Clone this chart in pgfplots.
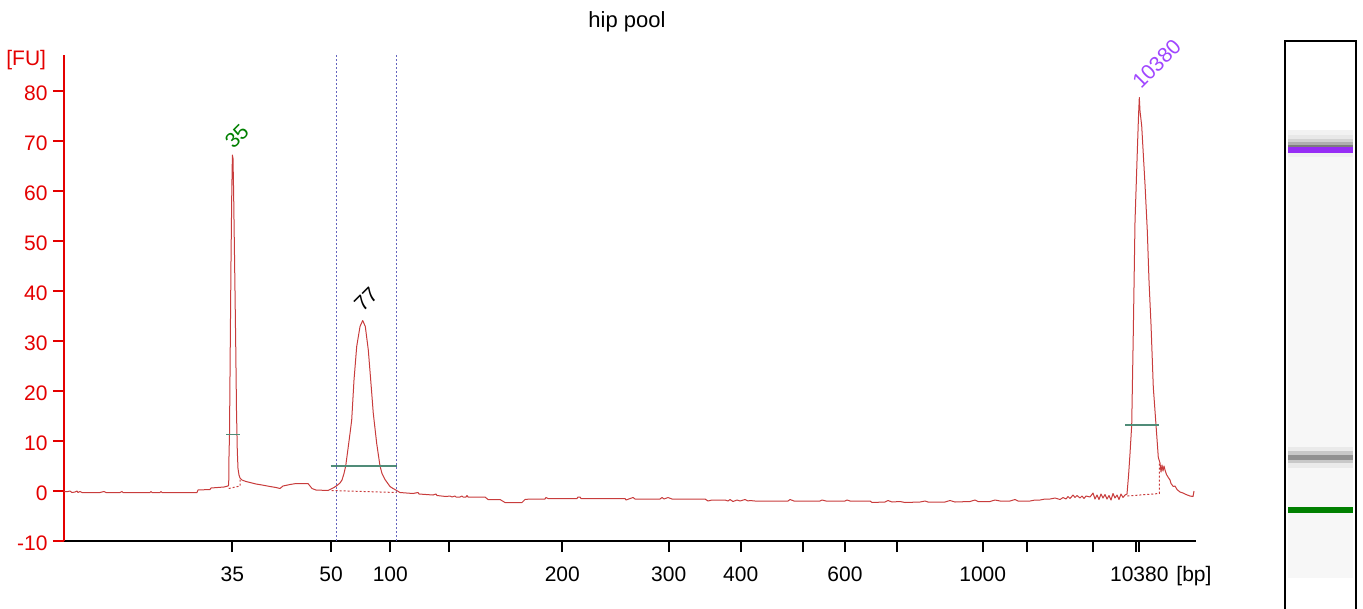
\documentclass[border=0pt]{standalone}
\usepackage{fontspec}
\setmainfont{Liberation Sans}
\usepackage{pgfplots}
\pgfplotsset{compat=1.18}

\definecolor{trace}{RGB}{200,60,60}
\definecolor{fured}{RGB}{228,0,0}
\definecolor{marker}{RGB}{100,100,190}
\definecolor{halfline}{RGB}{80,140,120}
\definecolor{ladgreen}{RGB}{0,128,0}
\definecolor{ladpurple}{RGB}{150,45,245}
\definecolor{labpurple}{RGB}{160,70,255}

\begin{document}
\begin{tikzpicture}
\useasboundingbox (0,0) rectangle (681.5pt,-304.5pt);

% electropherogram, x in screen pixels, y in FU
\begin{axis}[
  at={(32pt,-270.5pt)}, anchor=south west,
  scale only axis, width=566pt, height=243pt,
  xmin=64, xmax=1196, ymin=-10, ymax=87.2,
  enlargelimits=false, clip=false,
  axis lines=left,
  axis line style={-},
  x axis line style={black, line width=1pt},
  y axis line style={fured, line width=1pt},
  tick align=outside, major tick length=5.5pt,
  x tick style={black, line width=1pt},
  y tick style={fured, line width=1pt},
  xtick={232.3,331,390.3,448.7,562.3,668.7,740.7,802.7,845,896.7,982.7,1026.7,1093.3,1135.7,1139.3},
  xticklabels={35,50,100,{},200,300,400,{},600,{},1000,{},{},{},10380},
  ytick={-10,0,10,20,30,40,50,60,70,80},
  yticklabels={-10,0,10,20,30,40,50,60,70,80},
  tick label style={font=\fontsize{10.5}{12}\selectfont},
  xticklabel style={anchor=base, inner sep=0pt, yshift=-14.5pt},
  yticklabel style={fured, anchor=east, inner sep=0pt, xshift=-2.5pt, yshift=-1.3pt},
]
% region markers
\addplot[marker, line width=0.5pt, dash pattern=on 1pt off 1pt] coordinates {(336.3,-10) (336.3,87.2)};
\addplot[marker, line width=0.5pt, dash pattern=on 1pt off 1pt] coordinates {(396.7,-10) (396.7,87.2)};

% trace
\addplot[trace, line width=0.5pt, line join=round] coordinates {
(64,-0.1)(68,-0.1)(70,0.0)(72,-0.3)(75,-0.2)(77,0.0)(78,-0.3)(80,-0.1)(82,-0.3)(100,-0.3)(104,-0.1)(106,-0.3)
(120,-0.3)(122,-0.1)(123,-0.3)(150,-0.3)(151,-0.1)(152,-0.3)(160,-0.3)(161,-0.1)(162,-0.3)(197,-0.3)(198,0.2)
(210,0.3)(211,0.6)(224,0.8)(226,0.9)(228,1.0)
(228.7,1.2)(229,7)(229.5,11.3)(230.3,30)(231,46)(231.8,60)(232.4,67.2)(233,66.5)(233.6,60)(234.3,50)(235,40)
(235.8,28)(236.5,16)(237.3,8)(238,4.5)(239,3.2)(240,2.6)(242,2.2)(246,1.9)(250,1.7)(256,1.4)(262,1.2)(270,0.9)
(276,0.7)(280,0.5)(283,1.0)(290,1.3)(296,1.5)(308,1.5)(310,1.0)(312,0.5)(316,0.2)(328,0.1)(331,0.4)(334,0.7)
(337,1.1)(340,1.6)(342,2.2)(344,3.5)(345.7,5.0)(348.3,8.9)(350,11.5)(351.7,14.2)(354,22.2)(356.7,28.9)(360,32.9)
(362.7,34.1)(365.3,32.9)(368.3,28.2)(370.7,22.2)(373.3,15.5)(376.7,9.5)(380,5.0)(382,3.5)(385,2.3)(390,0.9)
(393,0.5)(396.7,0.1)(400,-0.3)(413,-0.5)(418,-0.3)(419,-0.6)(433,-0.8)(436,-0.6)(437,-0.9)(446,-1.1)(450,-1.0)
(452,-1.2)(455,-1.0)(456,-1.2)(460,-1.2)(462,-1.0)(463,-1.2)(466,-1.2)(467,-0.9)(468,-1.2)(485,-1.2)(488,-1.7)
(500,-1.7)(505,-2.3)(522,-2.3)(525,-1.7)(530,-1.6)(545,-1.6)(546,-1.3)(548,-1.5)(577,-1.5)(578,-1.2)(580,-1.2)
(581,-1.5)(625,-1.5)(626,-1.8)(633,-1.3)(635,-1.6)(660,-1.6)(662,-1.3)(664,-1.6)(668,-1.3)(672,-1.6)(705,-1.6)
(708,-2.0)(712,-1.8)(725,-1.8)(728,-2.0)(730,-1.7)(733,-2.1)(737,-1.8)(740,-2.0)(745,-1.7)(748,-2.0)(750,-1.9)
(755,-2.0)(788,-2.0)(790,-1.7)(794,-2.0)(820,-2.0)(822,-1.8)(826,-2.0)(845,-2.0)(847,-1.8)(850,-2.0)(870,-2.0)
(872,-2.3)(885,-2.2)(888,-1.9)(892,-2.2)(900,-2.1)(905,-2.3)(920,-2.2)(925,-2.0)(928,-2.2)(945,-2.2)(950,-1.9)
(955,-2.2)(970,-2.1)(975,-1.8)(978,-2.1)(990,-2.1)(995,-1.8)(1000,-2.0)(1010,-2.0)(1015,-1.7)(1018,-2.0)
(1030,-2.0)(1035,-1.8)(1040,-1.8)(1045,-1.6)(1050,-1.6)(1055,-1.4)(1060,-1.7)(1063,-1.3)(1066,-1.6)(1068,-1.1)
(1070,-1.5)(1073,-0.8)(1075,-1.3)(1077,-0.9)(1080,-1.4)(1082,-1.0)(1084,-1.5)(1086,-1.0)(1090,-1.2)(1093,-0.4)
(1095,-1.6)(1097,-0.8)(1099,-1.7)(1101,-0.6)(1103,-1.4)(1105,-0.7)(1107,-1.6)(1109,-0.9)(1111,-1.8)(1113,-0.5)
(1115,-1.4)(1117,-0.8)(1119,-1.7)(1121,-0.6)(1123,-1.3)(1125,-0.8)(1127,-0.6)
(1128.5,3)(1130,7.5)(1131.7,13.2)(1133.3,31.8)(1135,53.9)(1137.3,67.9)(1138.5,75)(1139.3,78.7)(1140,76)
(1141.7,73)(1145,61.3)(1147.3,52)(1149,42)(1151,33.3)(1153.3,20.7)(1156,13.2)(1158.3,6.7)(1160,5.6)(1161,3.8)
(1162,5.2)(1163,4.0)(1164,5.0)(1165,4.2)(1166.5,3.3)(1168.3,2.7)(1170,2.2)(1171,1.5)(1173.3,0.9)(1175,1.0)
(1177,0.3)(1180,-0.2)(1183,-0.4)(1186,-0.7)(1190,-1.0)(1193,-1.1)(1194,0.0)
};

% peak baselines
\addplot[trace, line width=0.5pt, dash pattern=on 1pt off 1pt] coordinates {(228.7,0.5)(240,1.0)(240,2.5)};
\addplot[trace, line width=0.5pt, dash pattern=on 1pt off 1pt] coordinates {(331.7,0.1)(396.7,-0.3)};
\addplot[trace, line width=0.5pt, dash pattern=on 1pt off 1pt] coordinates {(1127.3,-1.0)(1159.3,-0.5)(1159.3,5.6)};

% half-height markers
\addplot[halfline, line width=0.6pt] coordinates {(226,11.3)(240,11.3)};
\addplot[halfline, line width=0.6pt] coordinates {(330.7,5.0)(397.3,5.0)};
\addplot[halfline, line width=0.6pt] coordinates {(1125,13.2)(1158.7,13.2)};

% peak labels
\node[rotate=45, text=ladgreen, font=\fontsize{10.5}{12}\selectfont] at (236.7,70.9) {35};
\node[rotate=45, text=black, font=\fontsize{10.5}{12}\selectfont] at (366,38.4) {77};
\node[rotate=45, text=labpurple, font=\fontsize{10.5}{12}\selectfont] at (1156.7,85.4) {10380};
\end{axis}

% gel lane, in screen pixels
\begin{axis}[
  at={(642pt,-304.5pt)}, anchor=south west,
  scale only axis, width=36.5pt, height=284.5pt,
  xmin=1284, xmax=1357, ymin=40, ymax=609, y dir=reverse,
  axis lines=none, clip=false, enlargelimits=false,
]
\addplot[draw=none, fill={rgb,255:red,247;green,247;blue,247}] coordinates {(1288,130)(1353,130)(1353,578)(1288,578)} -- cycle;
\addplot[draw=none, fill={rgb,255:red,242;green,242;blue,242}] coordinates {(1288,130)(1353,130)(1353,135)(1288,135)} -- cycle;
\addplot[draw=none, fill={rgb,255:red,232;green,232;blue,232}] coordinates {(1288,135)(1353,135)(1353,139)(1288,139)} -- cycle;
\addplot[draw=none, fill={rgb,255:red,210;green,210;blue,210}] coordinates {(1288,139)(1353,139)(1353,142)(1288,142)} -- cycle;
\addplot[draw=none, fill={rgb,255:red,175;green,175;blue,175}] coordinates {(1288,142)(1353,142)(1353,144.5)(1288,144.5)} -- cycle;
\addplot[draw=none, fill={rgb,255:red,125;green,125;blue,125}] coordinates {(1288,144.5)(1353,144.5)(1353,146.7)(1288,146.7)} -- cycle;
\addplot[draw=none, fill=ladpurple] coordinates {(1288,146.7)(1353,146.7)(1353,152.7)(1288,152.7)} -- cycle;
\addplot[draw=none, fill={rgb,255:red,240;green,240;blue,240}] coordinates {(1288,152.7)(1353,152.7)(1353,157)(1288,157)} -- cycle;
\addplot[draw=none, fill={rgb,255:red,234;green,234;blue,234}] coordinates {(1288,447)(1353,447)(1353,451)(1288,451)} -- cycle;
\addplot[draw=none, fill={rgb,255:red,200;green,200;blue,200}] coordinates {(1288,451)(1353,451)(1353,454.5)(1288,454.5)} -- cycle;
\addplot[draw=none, fill={rgb,255:red,145;green,145;blue,145}] coordinates {(1288,454.5)(1353,454.5)(1353,460)(1288,460)} -- cycle;
\addplot[draw=none, fill={rgb,255:red,200;green,200;blue,200}] coordinates {(1288,460)(1353,460)(1353,463)(1288,463)} -- cycle;
\addplot[draw=none, fill={rgb,255:red,234;green,234;blue,234}] coordinates {(1288,463)(1353,463)(1353,468)(1288,468)} -- cycle;
\addplot[draw=none, fill=ladgreen] coordinates {(1288,506.7)(1353,506.7)(1353,512.7)(1288,512.7)} -- cycle;
\addplot[black, line width=1pt] coordinates {(1285,609)(1285,41)(1356,41)(1356,609)};
\end{axis}

\begin{scope}[x=0.5pt, y=-0.5pt]
\node[anchor=base, inner sep=0pt, font=\fontsize{11}{13}\selectfont] at (627,27.3) {hip pool};
\node[anchor=base west, inner sep=0pt, text=fured, font=\fontsize{10.5}{12}\selectfont] at (6,66) {[FU]};
\node[anchor=base west, inner sep=0pt, font=\fontsize{10.5}{12}\selectfont] at (1176,581) {[bp]};
\end{scope}
\end{tikzpicture}
\end{document}
